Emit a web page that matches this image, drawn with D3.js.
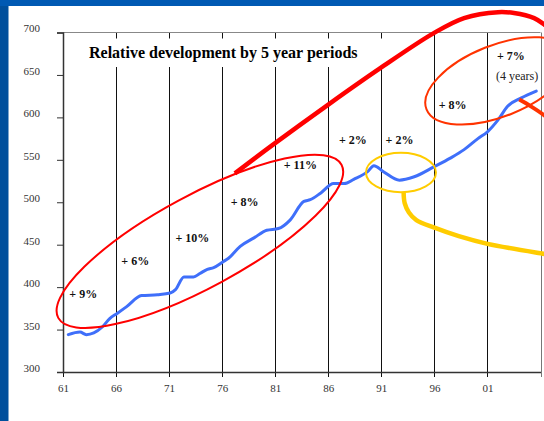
<!DOCTYPE html>
<html>
<head>
<meta charset="utf-8">
<script src="https://cdnjs.cloudflare.com/ajax/libs/d3/7.8.5/d3.min.js"></script>
<style>
  body { margin: 0; background: #fff; }
  text { font-family: "Liberation Serif", "Times New Roman", serif; }
</style>
</head>
<body>
<div id="chart"></div>
<script>
// series (year, index value)
var years = [1961.5, 1962.6, 1963.2, 1963.9, 1964.7, 1965.4, 1966.1, 1967.0, 1968.4, 1969.9,
  1971.1, 1971.6, 1972.4, 1973.3, 1973.9, 1974.6, 1975.2, 1976.1, 1976.6, 1977.7,
  1979.0, 1980.2, 1981.3, 1982.4, 1983.7, 1984.3, 1985.3, 1986.5, 1987.5, 1988.4,
  1989.7, 1990.3, 1991.2, 1992.7, 1994.1, 1996.0, 1997.5, 1998.8, 2000.1, 2001.0,
  2002.0, 2002.9, 2004.2, 2005.6];
var values = [344, 347, 344, 346, 353, 363, 369, 377, 390, 391,
  393, 397, 412, 412, 416, 421, 423, 430, 434, 448,
  458, 467, 469, 479, 501, 503, 511, 522, 522, 527,
  536, 543, 536, 526, 530, 542, 552, 562, 575, 583,
  597, 613, 623, 631];

var xTicks = [1961, 1966, 1971, 1976, 1981, 1986, 1991, 1996, 2001, 2006];
var xTickLabels = ["61", "66", "71", "76", "81", "86", "91", "96", "01", ""];
var yTicks = [300, 350, 400, 450, 500, 550, 600, 650, 700];

var title = "Relative development by 5 year periods";
var periodLabels = ["+ 9%", "+ 6%", "+ 10%", "+ 8%", "+ 11%", "+ 2%", "+ 2%", "+ 8%", "+ 7%"];
var periodLabelYears = [1961.6, 1966.5, 1971.6, 1976.8, 1981.8, 1987.0, 1991.4, 1996.4, 2001.9];
var periodLabelValues = [387, 426, 453, 496, 539, 569, 569, 610, 668];
var noteText = "(4 years)";

// hand-drawn callouts, in data coordinates
var bigRedArrow = [[1977.2, 534], [1980.7, 567], [1986.1, 616], [1990.9, 658], [1995.9, 699],
  [1998.8, 717], [2002.0, 724], [2003.5, 723], [2005.4, 717], [2006.4, 709], [2007.6, 696]];
var yellowTail = [[1993.1, 512], [1993.2, 499], [1993.6, 488], [1994.3, 479], [1996.0, 470],
  [1998.3, 460], [2001.0, 451], [2006.4, 439], [2007.9, 436]];
var orangeTail = [[2004.0, 621], [2005.1, 613], [2006.4, 602], [2007.6, 589]];

var W = 544, H = 421;
var x = d3.scaleLinear().domain([1961, 2006]).range([63, 540.5]);
var y = d3.scaleLinear().domain([300, 700]).range([372, 32.5]);

var svg = d3.select("#chart").append("svg")
  .attr("width", W).attr("height", H);

// slide frame
svg.append("rect").attr("width", W).attr("height", H).attr("fill", "#fff");
svg.append("rect").attr("x", 0).attr("y", 0).attr("width", 8.5).attr("height", H).attr("fill", "#004f9c");
svg.append("rect").attr("x", 0).attr("y", 0).attr("width", W).attr("height", 6).attr("fill", "#0059b3");

// vertical grid lines every 5 years (they run a bit below the axis as ticks)
svg.selectAll(".grid").data(xTicks).enter().append("line")
  .attr("class", "grid")
  .attr("x1", function(d) { return Math.round(x(d)) + 0.5; })
  .attr("x2", function(d) { return Math.round(x(d)) + 0.5; })
  .attr("y1", y(700)).attr("y2", y(300) + 5)
  .attr("stroke", function(d, i) { return i == xTicks.length - 1 ? "#777" : "#111"; })
  .attr("stroke-width", 1);

// top border
svg.append("line").attr("x1", x(1961)).attr("x2", x(2006))
  .attr("y1", y(700)).attr("y2", y(700))
  .attr("stroke", "#888").attr("stroke-width", 1);

// y axis
var yAxis = d3.axisLeft(y).tickValues(yTicks).tickSize(6).tickPadding(17);
var gy = svg.append("g").attr("transform", "translate(" + x(1961) + ",0)").call(yAxis);
gy.select(".domain").attr("stroke", "#333").attr("stroke-width", 1.5);
gy.selectAll(".tick line").attr("stroke", "#333");
gy.selectAll(".tick text")
  .attr("font-family", '"Liberation Serif", serif').attr("font-size", 11)
  .attr("fill", "#333").attr("dy", "-0.05em");

// x axis
var xAxis = d3.axisBottom(x).tickValues(xTicks).tickSize(0).tickPadding(20)
  .tickFormat(function(d, i) { return xTickLabels[i]; });
var gx = svg.append("g").attr("transform", "translate(0," + y(300) + ")").call(xAxis);
gx.select(".domain").attr("stroke", "#333").attr("stroke-width", 1.5);
gx.selectAll(".tick text")
  .attr("font-family", '"Liberation Serif", serif').attr("font-size", 11)
  .attr("fill", "#333").attr("dy", "0");

// title on a white box that hides the grid
svg.append("rect").attr("x", 76).attr("y", 38.5).attr("width", 314).attr("height", 28.5).attr("fill", "#fff");
svg.append("text").attr("x", 89).attr("y", 57.5)
  .attr("font-size", 16).attr("font-weight", "bold").attr("fill", "#000")
  .text(title);

// series line
var line = d3.line()
  .x(function(d, i) { return x(years[i]); })
  .y(function(d) { return y(d); })
  .curve(d3.curveMonotoneX);
svg.append("path").datum(values)
  .attr("d", line)
  .attr("fill", "none").attr("stroke", "#3f6ffa").attr("stroke-width", 3)
  .attr("stroke-linejoin", "round").attr("stroke-linecap", "round");

// period labels
svg.selectAll(".plab").data(periodLabels).enter().append("text")
  .attr("class", "plab")
  .attr("x", function(d, i) { return x(periodLabelYears[i]); })
  .attr("y", function(d, i) { return y(periodLabelValues[i]); })
  .attr("font-size", 12).attr("font-weight", "bold").attr("fill", "#111")
  .text(function(d) { return d; });
svg.append("text").attr("x", x(2001.8)).attr("y", y(644))
  .attr("font-size", 12).attr("fill", "#222").text(noteText);

// callout ellipses
function ellipse(cx, cy, rx, ry, rot, color, w) {
  svg.append("ellipse")
    .attr("transform", "translate(" + x(cx) + "," + y(cy) + ") rotate(" + rot + ")")
    .attr("rx", rx).attr("ry", ry)
    .attr("fill", "none").attr("stroke", color).attr("stroke-width", w);
}
ellipse(1973.9, 454, 161, 46, -28.4, "#ff0000", 2);
ellipse(1992.85, 535, 35, 19.7, 0, "#ffcc00", 2);
ellipse(2002.0, 643, 77, 35.6, -21.7, "#ff3300", 2);

// connector curves
var cline = d3.line()
  .x(function(d) { return x(d[0]); })
  .y(function(d) { return y(d[1]); })
  .curve(d3.curveCatmullRom);
svg.append("path").datum(bigRedArrow).attr("d", cline)
  .attr("fill", "none").attr("stroke", "#ff0000").attr("stroke-width", 4.5);
svg.append("path").datum(yellowTail).attr("d", cline)
  .attr("fill", "none").attr("stroke", "#ffcc00").attr("stroke-width", 4.5);
svg.append("path").datum(orangeTail).attr("d", cline)
  .attr("fill", "none").attr("stroke", "#ff3300").attr("stroke-width", 4);
</script>
</body>
</html>
